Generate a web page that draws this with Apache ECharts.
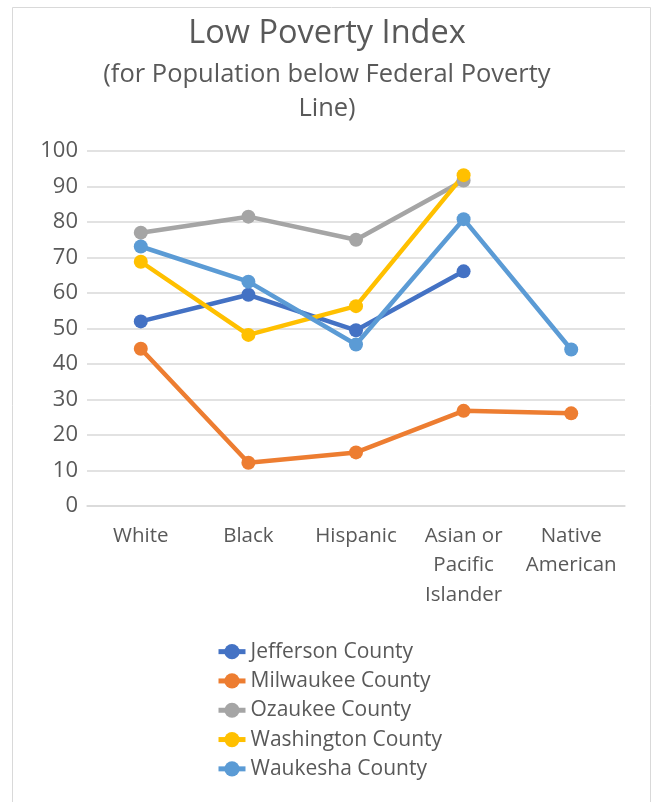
<!DOCTYPE html>
<html>
<head>
<meta charset="utf-8">
<style>
  html, body { margin: 0; padding: 0; background: #ffffff; }
  #chart { width: 654px; height: 802px; }
</style>
<script src="https://cdn.jsdelivr.net/npm/echarts@6/dist/echarts.min.js"></script>
</head>
<body>
<div id="chart"></div>
<script>
// Categories along the x axis
const categories = ['White', 'Black', 'Hispanic', 'Asian or\nPacific\nIslander', 'Native\nAmerican'];

// Low Poverty Index by county (null = no value)
const jefferson  = [52.0, 59.5, 49.5, 66.1, null];
const milwaukee  = [44.3, 12.2, 15.1, 26.8, 26.1];
const ozaukee    = [77.0, 81.5, 75.0, 91.7, null];
const washington = [68.8, 48.2, 56.3, 93.2, null];
const waukesha   = [73.1, 63.2, 45.5, 80.8, 44.1];

const seriesNames = ['Jefferson County', 'Milwaukee County', 'Ozaukee County', 'Washington County', 'Waukesha County'];
const seriesData = [jefferson, milwaukee, ozaukee, washington, waukesha];
const seriesColors = ['#4472C4', '#ED7D31', '#A5A5A5', '#FFC000', '#5B9BD5'];

const FONT = '"Open Sans", Lato, sans-serif';
const TEXT = '#595959';

const chart = echarts.init(document.getElementById('chart'), null, { renderer: 'canvas' });

chart.setOption({
  backgroundColor: '#ffffff',
  animation: false,
  color: seriesColors,
  title: [
    {
      text: 'Low Poverty Index',
      left: 'center',
      top: 13,
      padding: 0,
      textStyle: { fontFamily: FONT, fontSize: 32.5, fontWeight: 'normal', color: TEXT, lineHeight: 42 }
    },
    {
      text: '(for Population below Federal Poverty',
      left: 'center',
      top: 58,
      padding: 0,
      textStyle: { fontFamily: FONT, fontSize: 25.5, fontWeight: 'normal', color: TEXT, lineHeight: 33 }
    },
    {
      text: 'Line)',
      left: 'center',
      top: 92,
      padding: 0,
      textStyle: { fontFamily: FONT, fontSize: 25.5, fontWeight: 'normal', color: TEXT, lineHeight: 33 }
    }
  ],
  graphic: [
    {
      type: 'rect',
      shape: { x: 12.5, y: 7.5, width: 638, height: 810 },
      style: { fill: 'none', stroke: '#d9d9d9', lineWidth: 1 },
      silent: true
    }
  ],
  grid: { left: 87, right: 29, top: 151, bottom: 296, containLabel: false },
  xAxis: {
    type: 'category',
    data: categories,
    boundaryGap: true,
    axisLine: { show: true, lineStyle: { color: '#d9d9d9', width: 1.5 } },
    axisTick: { show: false },
    axisLabel: {
      fontFamily: FONT, fontSize: 20.5, color: TEXT, lineHeight: 29.5, margin: 15, interval: 0
    }
  },
  yAxis: {
    type: 'value',
    min: 0, max: 100, interval: 10,
    axisLine: { show: false },
    axisTick: { show: false },
    splitLine: { lineStyle: { color: '#d9d9d9', width: 1.5 } },
    axisLabel: { fontFamily: FONT, fontSize: 22, color: TEXT, margin: 9 }
  },
  legend: {
    orient: 'vertical',
    left: 216,
    top: 637,
    padding: 0,
    itemWidth: 27,
    itemHeight: 19,
    itemGap: 0,
    data: seriesNames,
    lineStyle: { width: 5 },
    textStyle: { fontFamily: FONT, fontSize: 21, color: TEXT, lineHeight: 29.3 }
  },
  series: seriesNames.map((name, i) => ({
    name: name,
    type: 'line',
    data: seriesData[i],
    symbol: 'circle',
    symbolSize: 14,
    showSymbol: true,
    connectNulls: false,
    lineStyle: { width: 4.5, color: seriesColors[i] },
    itemStyle: { color: seriesColors[i] },
    emphasis: { disabled: true }
  }))
});
</script>
</body>
</html>
